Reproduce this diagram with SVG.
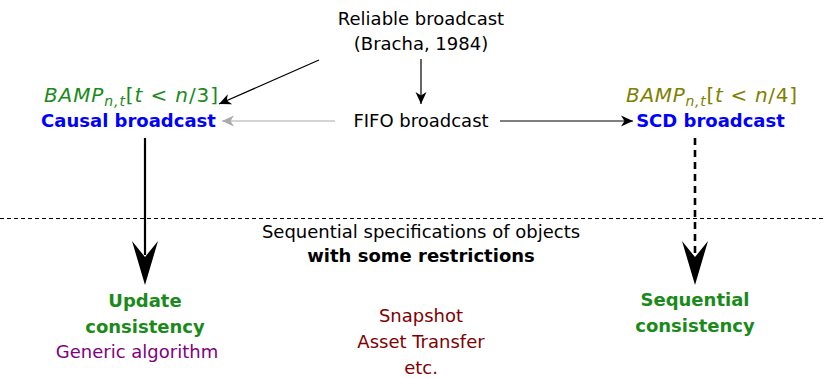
<svg xmlns="http://www.w3.org/2000/svg" width="824" height="378" viewBox="0 0 824 378">
<style>
text{font-family:"DejaVu Sans","Liberation Sans",sans-serif;font-size:18px;text-anchor:middle;fill:#000}
.b{font-weight:bold}
.blue{fill:#0000ff}
.grn{fill:#1a8a1a}
.olv{fill:#808000}
.pur{fill:#800080}
.red{fill:#800000}
.it{font-style:italic}
.bamp{font-size:20px}
.sub{font-size:14px;font-style:italic}
.c{fill:none;stroke:#000;stroke-width:1.2}
</style>
<defs>
<marker id="a" markerUnits="userSpaceOnUse" markerWidth="14" markerHeight="14" viewBox="-12 -6 14 12" refX="0" refY="0" orient="auto">
<path d="M0,0 L-12,-5.5 L-8.5,0 L-12,5.5 Z" fill="#000"/>
</marker>
<marker id="ag" markerUnits="userSpaceOnUse" markerWidth="14" markerHeight="14" viewBox="-12 -6 14 12" refX="0" refY="0" orient="auto">
<path d="M0,0 L-12,-5.5 L-8.5,0 L-12,5.5 Z" fill="#aaaaaa"/>
</marker>
</defs>
<g id="connectors">
<line class="c" x1="319" y1="60" x2="219" y2="104" marker-end="url(#a)"/>
<line class="c" x1="421" y1="59" x2="421" y2="104" marker-end="url(#a)"/>
<line class="c" x1="335" y1="121" x2="222" y2="121" style="stroke:#aaaaaa" marker-end="url(#ag)"/>
<line class="c" x1="500" y1="121" x2="633" y2="121" marker-end="url(#a)"/>
<line x1="145" y1="138" x2="145" y2="255" stroke="#000" stroke-width="2.2"/>
<path d="M145,285 L132,241 L145,257 L158,241 Z" fill="#000"/>
<line x1="695" y1="138" x2="695" y2="255" stroke="#000" stroke-width="2.6" stroke-dasharray="7,5"/>
<path d="M695,285 L682,241 L695,257 L708,241 Z" fill="#000"/>
<line x1="0" y1="218.5" x2="824" y2="218.5" stroke="#000" stroke-width="1" stroke-dasharray="4,3"/>
</g>
<g id="reliable">
<text x="421" y="25">Reliable broadcast</text>
<text x="421" y="50">(Bracha, 1984)</text>
</g>
<g id="causal">
<text x="131" y="102" class="grn bamp" textLength="174" lengthAdjust="spacing"><tspan class="it">BAMP</tspan><tspan class="sub" dy="4">n,t</tspan><tspan dy="-4">[</tspan><tspan class="it">t</tspan> &lt; <tspan class="it">n</tspan>/3]</text>
<text x="128.5" y="127" class="b blue">Causal broadcast</text>
</g>
<g id="fifo">
<text x="421" y="127">FIFO broadcast</text>
</g>
<g id="scd">
<text x="711.5" y="102" class="olv bamp" textLength="171" lengthAdjust="spacing"><tspan class="it">BAMP</tspan><tspan class="sub" dy="4">n,t</tspan><tspan dy="-4">[</tspan><tspan class="it">t</tspan> &lt; <tspan class="it">n</tspan>/4]</text>
<text x="710.5" y="127" class="b blue">SCD broadcast</text>
</g>
<g id="seqspec">
<text x="421" y="238">Sequential specifications of objects</text>
<text x="421" y="262" class="b">with some restrictions</text>
</g>
<g id="update">
<text x="145" y="307" class="b grn">Update</text>
<text x="145" y="333" class="b grn">consistency</text>
<text x="137" y="358" class="pur">Generic algorithm</text>
</g>
<g id="others">
<text x="421" y="322" class="red">Snapshot</text>
<text x="421" y="348" class="red">Asset Transfer</text>
<text x="421" y="374" class="red">etc.</text>
</g>
<g id="sequential">
<text x="695" y="306" class="b grn">Sequential</text>
<text x="695" y="332" class="b grn">consistency</text>
</g>
</svg>
